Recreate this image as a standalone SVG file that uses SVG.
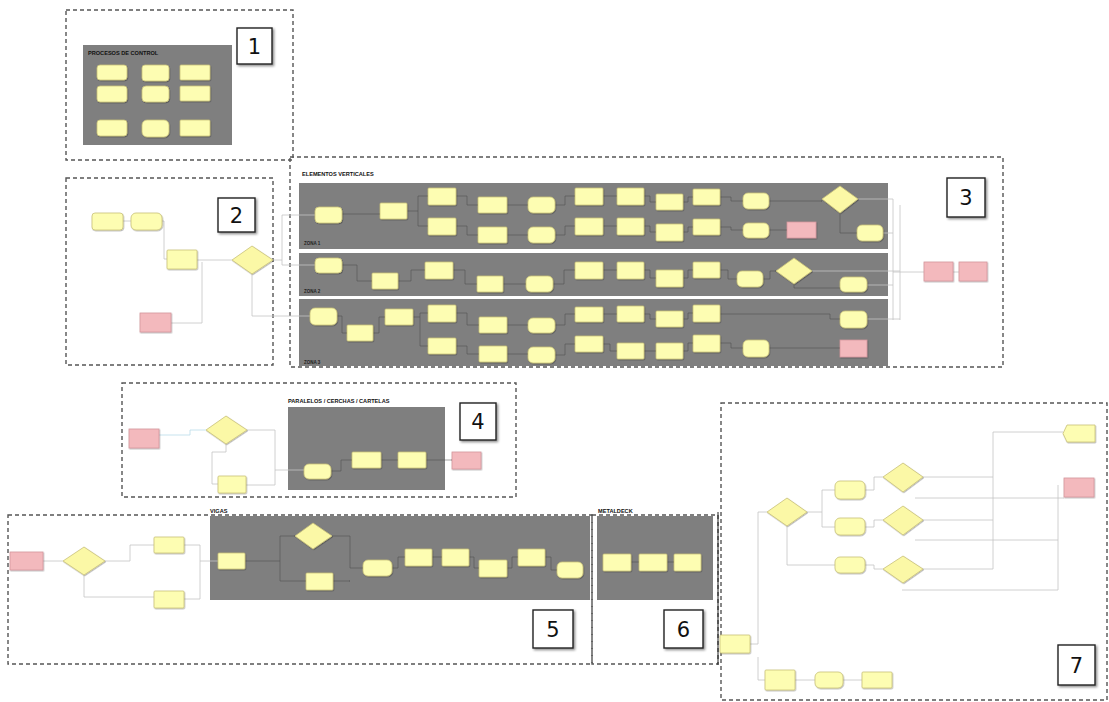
<svg xmlns="http://www.w3.org/2000/svg" width="1109" height="702" viewBox="0 0 1109 702">
<defs>
<filter id="sh" x="-20%" y="-20%" width="140%" height="150%"><feDropShadow dx="0.6" dy="0.8" stdDeviation="0.7" flood-color="#000" flood-opacity="0.35"/></filter>
<filter id="sh2" x="-20%" y="-20%" width="150%" height="150%"><feDropShadow dx="1.5" dy="1.5" stdDeviation="1.2" flood-color="#000" flood-opacity="0.45"/></filter>
<marker id="a" viewBox="0 0 6 6" refX="6" refY="3" markerWidth="3" markerHeight="3" orient="auto"><path d="M0,0 L6,3 L0,6 z" fill="#444"/></marker>
</defs>
<style>
.f{fill:none;stroke:#555;stroke-width:1.4;stroke-dasharray:4 3}
.p{fill:#7f7f7f}
.n{fill:#fdfdb2;stroke:#c9c27a;stroke-width:0.8;filter:url(#sh)}
.r{fill:#f3b9bd;stroke:#d4979d;stroke-width:0.8;filter:url(#sh)}
.d{fill:#fbf8a6;stroke:#c9c27a;stroke-width:0.8;filter:url(#sh)}
.b{fill:#fff;stroke:#222;stroke-width:1.4;filter:url(#sh2)}
.num{font-family:"DejaVu Sans",sans-serif;font-size:21px;fill:#111;text-anchor:middle}
.t{font-family:"Liberation Sans",Arial,sans-serif;font-size:5.6px;font-weight:bold;fill:#111}
.z{font-family:"Liberation Sans",Arial,sans-serif;font-size:4.5px;font-weight:bold;fill:#222}
.c{fill:none;stroke:#c4c4c4;stroke-width:0.8}
.cd{fill:none;stroke:#4a4a4a;stroke-width:0.5;marker-end:url(#a)}
.dk{fill:none;stroke:#222;stroke-width:1}
</style>
<rect width="1109" height="702" fill="#fff"/>

<g id="frames">
<rect class="f" x="66" y="10" width="227" height="150"/>
<rect class="f" x="66" y="178" width="207" height="187"/>
<rect class="f" x="290" y="157" width="713" height="210"/>
<rect class="f" x="122" y="383" width="394" height="114"/>
<rect class="f" x="8" y="515" width="584" height="149"/>
<rect class="f" x="592" y="515" width="126" height="149"/>
<rect class="f" x="721" y="403" width="386" height="297"/>
</g>

<g id="panels">
<rect class="p" x="83" y="45" width="149" height="100"/>
<rect class="p" x="299" y="183" width="589" height="66"/>
<rect class="p" x="299" y="253" width="589" height="43"/>
<rect class="p" x="299" y="299" width="589" height="67"/>
<rect class="p" x="288" y="407" width="157" height="83"/>
<rect class="p" x="210" y="516" width="380" height="84"/>
<rect class="p" x="597" y="516" width="116" height="84"/>
</g>

<g id="titles">
<text class="t" x="88" y="55">PROCESOS DE CONTROL</text>
<text class="t" x="302" y="176">ELEMENTOS VERTICALES</text>
<text class="z" x="304" y="245">ZONA 1</text>
<text class="z" x="304" y="293">ZONA 2</text>
<text class="z" x="304" y="364">ZONA 3</text>
<text class="t" x="288" y="403">PARALELOS / CERCHAS / CARTELAS</text>
<text class="t" x="210" y="513">VIGAS</text>
<text class="t" x="598" y="513">METALDECK</text>
</g>

<g id="box1"><rect class="b" x="237" y="28" width="35" height="36"/><text class="num" x="254.5" y="54">1</text></g>
<g id="box2"><rect class="b" x="218" y="198" width="37" height="34"/><text class="num" x="236.5" y="223">2</text></g>
<g id="box3"><rect class="b" x="947" y="178" width="38" height="39"/><text class="num" x="966" y="205">3</text></g>
<g id="box4"><rect class="b" x="460" y="403" width="36" height="37"/><text class="num" x="478" y="429">4</text></g>
<g id="box5"><rect class="b" x="533" y="610" width="40" height="38"/><text class="num" x="553" y="637">5</text></g>
<g id="box6"><rect class="b" x="664" y="610" width="39" height="38"/><text class="num" x="683.5" y="637">6</text></g>
<g id="box7"><rect class="b" x="1058" y="645" width="37" height="40"/><text class="num" x="1076.5" y="673">7</text></g>

<g id="connectors">
<path class="c" d="M123 221 H131"/>
<path class="c" d="M162 221 H164 V259 H167"/>
<path class="c" d="M197 260 H232"/>
<path class="c" d="M171 323 H202 V262"/>
<path class="c" d="M252 273 V316 H310"/>
<path class="c" d="M273 260 H282 V215 H315"/>
<path class="c" d="M282 260 V265 H315"/>
<path class="cd" d="M342 214 H380"/>
<path class="cd" d="M407 211 H418 V196 H428"/>
<path class="cd" d="M418 211 V226 H428"/>
<path class="cd" d="M456 196 H467 V205 H478"/>
<path class="cd" d="M456 226 H467 V235 H478"/>
<path class="cd" d="M507 205 H528"/>
<path class="cd" d="M507 235 H528"/>
<path class="cd" d="M555 205 H565 V196 H575"/>
<path class="cd" d="M555 235 H565 V226 H575"/>
<path class="cd" d="M603 196 H617"/>
<path class="cd" d="M603 226 H617"/>
<path class="cd" d="M644 196 H650 V202 H656"/>
<path class="cd" d="M644 226 H650 V232 H656"/>
<path class="cd" d="M683 202 H688 V197 H693"/>
<path class="cd" d="M683 232 H688 V227 H693"/>
<path class="cd" d="M720 197 H731 V201 H743"/>
<path class="cd" d="M720 227 H731 V230 H743"/>
<path class="cd" d="M769 201 H822"/>
<path class="cd" d="M769 230 H787"/>
<path class="cd" d="M840 213 V233 H857"/>
<path class="cd" d="M342 265 H357 V281 H372"/>
<path class="cd" d="M398 281 H411 V270 H425"/>
<path class="cd" d="M453 270 H465 V284 H477"/>
<path class="cd" d="M503 284 H526"/>
<path class="cd" d="M553 284 H564 V270 H575"/>
<path class="cd" d="M603 270 H617"/>
<path class="cd" d="M644 270 H650 V278 H656"/>
<path class="cd" d="M683 278 H688 V270 H693"/>
<path class="cd" d="M720 270 H728 V279 H737"/>
<path class="cd" d="M763 279 H770 V271 H776"/>
<path class="cd" d="M794 284 V288 H840"/>
<path class="cd" d="M337 316 H342 V333 H347"/>
<path class="cd" d="M373 333 H379 V317 H385"/>
<path class="cd" d="M413 317 H420 V313 H428"/>
<path class="cd" d="M420 317 V346 H428"/>
<path class="cd" d="M456 313 H467 V325 H479"/>
<path class="cd" d="M456 346 H467 V354 H479"/>
<path class="cd" d="M507 325 H528"/>
<path class="cd" d="M507 354 H528"/>
<path class="cd" d="M555 325 H565 V314 H575"/>
<path class="cd" d="M555 355 H565 V344 H575"/>
<path class="cd" d="M603 314 H617"/>
<path class="cd" d="M603 344 H610 V351 H617"/>
<path class="cd" d="M644 314 H650 V319 H656"/>
<path class="cd" d="M644 351 H656"/>
<path class="cd" d="M683 319 H688 V313 H693"/>
<path class="cd" d="M683 351 H688 V343 H693"/>
<path class="cd" d="M720 314 H830 V319 H840"/>
<path class="cd" d="M720 343 H731 V348 H743"/>
<path class="cd" d="M769 348 H840"/>
<path class="c" d="M858 199 H893"/>
<path class="c" d="M883 233 H893"/>
<path class="c" d="M812 271 H900"/>
<path class="c" d="M867 285 H893"/>
<path class="c" d="M867 319 H900"/>
<path class="c" d="M893 199 V320"/>
<path class="c" d="M900 205 V320"/>
<path class="c" d="M893 272 H924"/>
<path class="c" d="M953 272 H959"/>
<path class="c" d="M159 435 H190 V430 H206" style="stroke:#b9dcea"/>
<path class="c" d="M247 430 H275 V485 H246"/>
<path class="c" d="M275 470 H304"/>
<path class="c" d="M226 444 V452 H212 V484 H218"/>
<path class="cd" d="M331 471 H341 V460 H352"/>
<path class="cd" d="M381 460 H398"/>
<path class="cd" d="M426 460 H452"/>
<path class="c" d="M43 561 H63"/>
<path class="c" d="M105 561 H130 V545 H154"/>
<path class="c" d="M84 575 V597 H154"/>
<path class="c" d="M184 545 H200 V599 H184"/>
<path class="c" d="M200 561 H218"/>
<path class="cd" d="M245 561 H280 V536 H295"/>
<path class="cd" d="M280 561 V581 H306"/>
<path class="cd" d="M332 536 H350 V568 H363"/>
<path class="cd" d="M333 581 H350"/>
<path class="cd" d="M392 568 H398 V557 H405"/>
<path class="cd" d="M432 557 H442"/>
<path class="cd" d="M469 557 H474 V568 H479"/>
<path class="cd" d="M507 568 H512 V557 H518"/>
<path class="cd" d="M545 557 H551 V570 H557"/>
<path class="cd" d="M631 562 H639"/>
<path class="cd" d="M667 562 H674"/>
<path class="dk" d="M718 512 V665"/>
<path class="c" d="M750 644 H758 V512 H767"/>
<path class="c" d="M758 657 V680 H765"/>
<path class="c" d="M795 680 H815"/>
<path class="c" d="M843 680 H862"/>
<path class="c" d="M807 512 H822 V490 H835"/>
<path class="c" d="M822 512 V527 H835"/>
<path class="c" d="M787 526 V565 H835"/>
<path class="c" d="M865 490 H874 V477 H883"/>
<path class="c" d="M865 527 H874 V520 H883"/>
<path class="c" d="M865 565 H874 V569 H883"/>
<path class="c" d="M923 477 H993"/>
<path class="c" d="M923 520 H993"/>
<path class="c" d="M923 569 H993"/>
<path class="c" d="M993 432 V569"/>
<path class="c" d="M993 432 H1063"/>
<path class="c" d="M915 498 H1064"/>
<path class="c" d="M915 540 H1058"/>
<path class="c" d="M902 590 H1058"/>
<path class="c" d="M1058 485 V590"/>
</g>

<g id="n1a"><rect class="n" x="97" y="65" width="30" height="15" rx="3"/></g>
<g id="n1b"><rect class="n" x="142" y="65" width="27" height="16" rx="3"/></g>
<g id="n1c"><rect class="n" x="180" y="65" width="30" height="15" rx="1"/></g>
<g id="n1d"><rect class="n" x="97" y="86" width="30" height="16" rx="3"/></g>
<g id="n1e"><rect class="n" x="142" y="86" width="27" height="16" rx="4"/></g>
<g id="n1f"><rect class="n" x="180" y="86" width="30" height="15" rx="1"/></g>
<g id="n1g"><rect class="n" x="97" y="120" width="30" height="16" rx="3"/></g>
<g id="n1h"><rect class="n" x="142" y="120" width="27" height="17" rx="5"/></g>
<g id="n1i"><rect class="n" x="180" y="120" width="30" height="16" rx="1"/></g>

<g id="n2a"><rect class="n" x="92" y="213" width="31" height="17" rx="3"/></g>
<g id="n2b"><rect class="n" x="131" y="213" width="31" height="17" rx="5"/></g>
<g id="n2c"><rect class="n" x="167" y="250" width="30" height="19" rx="1"/></g>
<g id="n2d"><polygon class="d" points="252,246 273,260 252,274 232,260"/></g>
<g id="n2e"><rect class="r" x="140" y="313" width="31" height="19"/></g>

<g id="z1n1"><rect class="n" x="315" y="207" width="27" height="16" rx="4"/></g>
<g id="z1n2"><rect class="n" x="380" y="203" width="27" height="16" rx="1"/></g>
<g id="z1n3a"><rect class="n" x="428" y="188" width="28" height="17" rx="1"/></g>
<g id="z1n3b"><rect class="n" x="428" y="218" width="28" height="17" rx="1"/></g>
<g id="z1n4a"><rect class="n" x="478" y="197" width="29" height="16" rx="1"/></g>
<g id="z1n4b"><rect class="n" x="478" y="227" width="29" height="16" rx="1"/></g>
<g id="z1n5a"><rect class="n" x="528" y="197" width="27" height="16" rx="5"/></g>
<g id="z1n5b"><rect class="n" x="528" y="227" width="27" height="16" rx="5"/></g>
<g id="z1n6a"><rect class="n" x="575" y="188" width="28" height="17" rx="1"/></g>
<g id="z1n6b"><rect class="n" x="575" y="218" width="28" height="17" rx="1"/></g>
<g id="z1n7a"><rect class="n" x="617" y="188" width="27" height="17" rx="1"/></g>
<g id="z1n7b"><rect class="n" x="617" y="218" width="27" height="17" rx="1"/></g>
<g id="z1n8a"><rect class="n" x="656" y="194" width="27" height="16" rx="1"/></g>
<g id="z1n8b"><rect class="n" x="656" y="224" width="27" height="17" rx="1"/></g>
<g id="z1n9a"><rect class="n" x="693" y="189" width="27" height="16" rx="1"/></g>
<g id="z1n9b"><rect class="n" x="693" y="219" width="27" height="16" rx="1"/></g>
<g id="z1n10a"><rect class="n" x="743" y="193" width="26" height="16" rx="5"/></g>
<g id="z1n10b"><rect class="n" x="743" y="223" width="26" height="15" rx="5"/></g>
<g id="z1r1"><rect class="r" x="787" y="222" width="29" height="16"/></g>
<g id="z1d1"><polygon class="d" points="840,186 858,199 840,213 822,199"/></g>
<g id="z1n11"><rect class="n" x="857" y="225" width="26" height="16" rx="5"/></g>

<g id="z2n1"><rect class="n" x="315" y="258" width="27" height="15" rx="4"/></g>
<g id="z2n2"><rect class="n" x="372" y="273" width="26" height="16" rx="1"/></g>
<g id="z2n3"><rect class="n" x="425" y="262" width="28" height="17" rx="1"/></g>
<g id="z2n4"><rect class="n" x="477" y="276" width="26" height="16" rx="1"/></g>
<g id="z2n5"><rect class="n" x="526" y="276" width="27" height="16" rx="5"/></g>
<g id="z2n6"><rect class="n" x="575" y="262" width="28" height="17" rx="1"/></g>
<g id="z2n7"><rect class="n" x="617" y="262" width="27" height="17" rx="1"/></g>
<g id="z2n8"><rect class="n" x="656" y="270" width="27" height="17" rx="1"/></g>
<g id="z2n9"><rect class="n" x="693" y="262" width="27" height="16" rx="1"/></g>
<g id="z2n10"><rect class="n" x="737" y="271" width="26" height="16" rx="5"/></g>
<g id="z2d2"><polygon class="d" points="794,258 812,271 794,284 776,271"/></g>
<g id="z2n11"><rect class="n" x="840" y="277" width="27" height="15" rx="5"/></g>

<g id="z3n1"><rect class="n" x="310" y="308" width="27" height="17" rx="5"/></g>
<g id="z3n2"><rect class="n" x="347" y="325" width="26" height="16" rx="1"/></g>
<g id="z3n3"><rect class="n" x="385" y="309" width="28" height="16" rx="1"/></g>
<g id="z3n4a"><rect class="n" x="428" y="305" width="28" height="17" rx="1"/></g>
<g id="z3n4b"><rect class="n" x="428" y="338" width="28" height="16" rx="1"/></g>
<g id="z3n5a"><rect class="n" x="479" y="317" width="28" height="16" rx="1"/></g>
<g id="z3n5b"><rect class="n" x="479" y="346" width="28" height="16" rx="1"/></g>
<g id="z3n6a"><rect class="n" x="528" y="318" width="27" height="15" rx="5"/></g>
<g id="z3n6b"><rect class="n" x="528" y="347" width="27" height="16" rx="5"/></g>
<g id="z3n7a"><rect class="n" x="575" y="307" width="28" height="15" rx="1"/></g>
<g id="z3n7b"><rect class="n" x="575" y="336" width="28" height="16" rx="1"/></g>
<g id="z3n8a"><rect class="n" x="617" y="306" width="27" height="16" rx="1"/></g>
<g id="z3n8b"><rect class="n" x="617" y="343" width="27" height="16" rx="1"/></g>
<g id="z3n9a"><rect class="n" x="656" y="311" width="27" height="16" rx="1"/></g>
<g id="z3n9b"><rect class="n" x="656" y="343" width="27" height="16" rx="1"/></g>
<g id="z3n10a"><rect class="n" x="693" y="305" width="27" height="17" rx="1"/></g>
<g id="z3n10b"><rect class="n" x="693" y="335" width="27" height="17" rx="1"/></g>
<g id="z3n11"><rect class="n" x="743" y="340" width="26" height="17" rx="5"/></g>
<g id="z3n12"><rect class="n" x="840" y="311" width="27" height="17" rx="5"/></g>
<g id="z3r"><rect class="r" x="840" y="340" width="27" height="17"/></g>

<g id="f3r1"><rect class="r" x="924" y="262" width="29" height="19"/></g>
<g id="f3r2"><rect class="r" x="959" y="262" width="28" height="19"/></g>

<g id="f4r1"><rect class="r" x="129" y="429" width="30" height="19"/></g>
<g id="f4d"><polygon class="d" points="226,416 247,430 226,444 206,430"/></g>
<g id="f4n1"><rect class="n" x="218" y="476" width="28" height="17" rx="1"/></g>
<g id="f4n2"><rect class="n" x="304" y="464" width="27" height="15" rx="5"/></g>
<g id="f4n3"><rect class="n" x="352" y="452" width="29" height="16" rx="1"/></g>
<g id="f4n4"><rect class="n" x="398" y="452" width="28" height="16" rx="1"/></g>
<g id="f4r2"><rect class="r" x="452" y="452" width="29" height="17"/></g>

<g id="f5r1"><rect class="r" x="10" y="552" width="33" height="18"/></g>
<g id="f5d1"><polygon class="d" points="84,547 105,561 84,575 63,561"/></g>
<g id="f5n1"><rect class="n" x="154" y="537" width="30" height="16" rx="1"/></g>
<g id="f5n2"><rect class="n" x="154" y="591" width="30" height="17" rx="1"/></g>
<g id="f5n3"><rect class="n" x="218" y="553" width="27" height="16" rx="1"/></g>
<g id="f5d2"><polygon class="d" points="313,523 332,536 313,549 295,536"/></g>
<g id="f5n4"><rect class="n" x="306" y="573" width="27" height="17" rx="1"/></g>
<g id="f5n5"><rect class="n" x="363" y="560" width="29" height="16" rx="5"/></g>
<g id="f5n6"><rect class="n" x="405" y="549" width="27" height="17" rx="1"/></g>
<g id="f5n7"><rect class="n" x="442" y="549" width="27" height="17" rx="1"/></g>
<g id="f5n8"><rect class="n" x="479" y="560" width="28" height="17" rx="1"/></g>
<g id="f5n9"><rect class="n" x="518" y="549" width="27" height="17" rx="1"/></g>
<g id="f5n10"><rect class="n" x="557" y="562" width="26" height="16" rx="5"/></g>

<g id="f6n1"><rect class="n" x="603" y="554" width="28" height="17" rx="1"/></g>
<g id="f6n2"><rect class="n" x="639" y="554" width="28" height="17" rx="1"/></g>
<g id="f6n3"><rect class="n" x="674" y="554" width="27" height="17" rx="1"/></g>

<g id="f7top"><path class="n" d="M1067 425 H1095 V442 H1067 L1063 433.5 Z"/></g>
<g id="f7r"><rect class="r" x="1064" y="478" width="30" height="19"/></g>
<g id="f7d0"><polygon class="d" points="787,498 807,512 787,526 767,512"/></g>
<g id="f7n1"><rect class="n" x="835" y="481" width="30" height="18" rx="5"/></g>
<g id="f7n2"><rect class="n" x="835" y="518" width="30" height="17" rx="5"/></g>
<g id="f7n3"><rect class="n" x="835" y="557" width="30" height="16" rx="5"/></g>
<g id="f7da"><polygon class="d" points="903,463 923,477 903,492 883,477"/></g>
<g id="f7db"><polygon class="d" points="903,506 923,520 903,535 883,520"/></g>
<g id="f7dc"><polygon class="d" points="903,556 923,569 903,583 883,569"/></g>
<g id="f7n4"><rect class="n" x="720" y="635" width="30" height="18" rx="1"/></g>
<g id="f7n5"><rect class="n" x="765" y="670" width="30" height="20" rx="1"/></g>
<g id="f7n6"><rect class="n" x="815" y="672" width="28" height="16" rx="5"/></g>
<g id="f7n7"><rect class="n" x="862" y="672" width="30" height="16" rx="1"/></g>
</svg>
